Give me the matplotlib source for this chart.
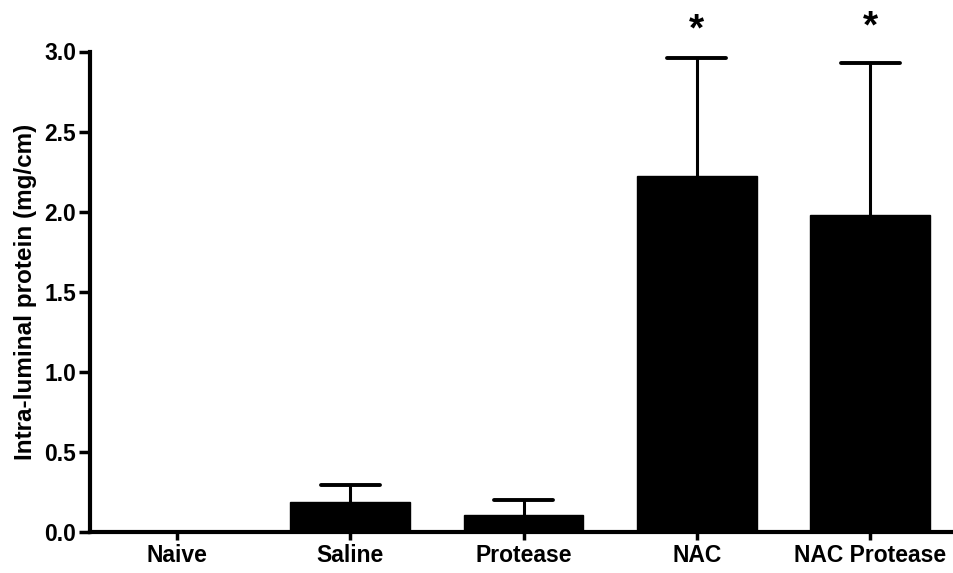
import numpy as np
import matplotlib
matplotlib.use("Agg")
import matplotlib.pyplot as plt

# data
groups = ["Naive", "Saline", "Protease", "NAC", "NAC Protease"]
means = [0.0, 0.19, 0.105, 2.22, 1.98]
sems = [0.0, 0.105, 0.095, 0.74, 0.95]
star_groups = ["NAC", "NAC Protease"]
star_heights = [3.13, 3.15]
yticks = [0.0, 0.5, 1.0, 1.5, 2.0, 2.5, 3.0]

plt.rcParams['font.family'] = ['Liberation Sans', 'DejaVu Sans']
plt.rcParams['font.weight'] = 'bold'

fig = plt.figure(figsize=(9.54, 5.73), dpi=100)
ax = fig.add_axes([90 / 954, 41 / 573, (957 - 90) / 954, (532 - 51.5) / 573])

x = np.arange(len(groups))
m = np.array(means)
s = np.array(sems)
ax.bar(x, m, width=0.69, color='black', edgecolor='black', linewidth=1, zorder=3)

# upper error bars only (stem + cap), skip groups without error
mask = s > 0
ax.vlines(x[mask], m[mask], m[mask] + s[mask], color='black', linewidth=2.2, zorder=2)
ax.hlines(m[mask] + s[mask], x[mask] - 0.17, x[mask] + 0.17, color='black',
          linewidth=2.8, zorder=2, capstyle='round')

for g, h in zip(star_groups, star_heights):
    ax.text(groups.index(g), h, '*', ha='center', va='center',
            fontsize=28, fontweight='bold', clip_on=False)

ax.set_xlim(-0.5, 4.5)
ax.set_ylim(0, 3.0)
ax.set_yticks(yticks)
ax.set_yticklabels([f"{v:.1f}" for v in yticks])
ax.set_xticks(x)
ax.set_xticklabels(groups)

for side in ['top', 'right']:
    ax.spines[side].set_visible(False)
for side in ['left', 'bottom']:
    ax.spines[side].set_linewidth(3)
    ax.spines[side].set_zorder(4)

ax.tick_params(axis='y', length=8, width=2.5, labelsize=16.5, pad=2)
ax.tick_params(axis='x', length=6, width=2.5, labelsize=16.5, pad=3)
ax.set_ylabel("Intra-luminal protein (mg/cm)", fontsize=17.5, fontweight='bold', labelpad=5)

fig.savefig("out.png", dpi=100)
